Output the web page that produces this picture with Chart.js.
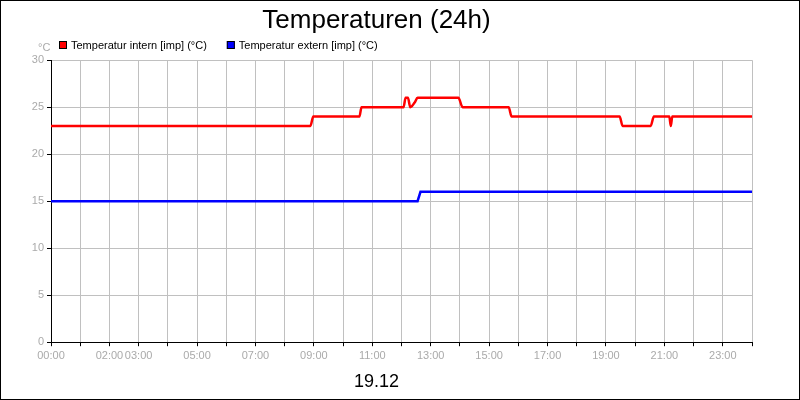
<!DOCTYPE html>
<html>
<head>
<meta charset="utf-8">
<script src="https://cdn.jsdelivr.net/npm/chart.js@4/dist/chart.umd.min.js"></script>
<style>
  body { margin: 0; background: #fff; }
  #wrap { width: 798px; height: 398px; border: 1px solid #000; position: relative; }
</style>
</head>
<body>
<div id="wrap"><canvas id="grafico" width="798" height="398"></canvas></div>
<script>
// Datos: horas (0-24) y temperaturas
const horasIntern = [0, 8.88, 8.98, 10.56, 10.63, 12.07, 12.14, 12.22, 12.3, 12.45, 12.55, 13.95, 14.09, 15.67, 15.77, 19.47, 19.57, 20.53, 20.64, 21.17, 21.22, 21.27, 24];
const tempIntern  = [23, 23, 24, 24, 25, 25, 26, 26, 25, 25.5, 26, 26, 25, 25, 24, 24, 23, 23, 24, 24, 23, 24, 24];
const horasExtern = [0, 12.55, 12.65, 24];
const tempExtern  = [15, 15, 16, 16];
const etiquetasHoras = { 0: '00:00', 2: '02:00', 3: '03:00', 5: '05:00', 7: '07:00', 9: '09:00', 11: '11:00',
  13: '13:00', 15: '15:00', 17: '17:00', 19: '19:00', 21: '21:00', 23: '23:00' };

const puntos = (xs, ys) => xs.map((x, i) => ({ x: x, y: ys[i] }));
const fuente = 'Arial, "Liberation Sans", sans-serif';

// Leyenda propia y °C encima del eje y
const textosExtra = {
  id: 'textosExtra',
  afterDraw(chart) {
    const c = chart.ctx;
    c.save();
    c.font = '11px ' + fuente;
    c.fillStyle = '#aaa';
    c.textBaseline = 'middle';
    c.fillText('°C', 37, 47);
    let x = 58;
    chart.data.datasets.forEach(d => {
      c.fillStyle = d.borderColor;
      c.fillRect(x, 40, 8, 8);
      c.strokeStyle = '#000';
      c.lineWidth = 1;
      c.strokeRect(x + 0.5, 40.5, 7, 7);
      c.fillStyle = '#000';
      c.fillText(d.label, x + 12, 44.5);
      x += 12 + c.measureText(d.label).width + 20;
    });
    c.restore();
  }
};

new Chart(document.getElementById('grafico'), {
  type: 'line',
  data: {
    datasets: [
      { label: 'Temperatur intern [imp] (°C)', data: puntos(horasIntern, tempIntern),
        borderColor: '#ff0000', borderWidth: 2.5, pointRadius: 0, cubicInterpolationMode: 'monotone' },
      { label: 'Temperatur extern [imp] (°C)', data: puntos(horasExtern, tempExtern),
        borderColor: '#0000ff', borderWidth: 2.5, pointRadius: 0 }
    ]
  },
  options: {
    responsive: false,
    animation: false,
    layout: { padding: { left: 0, right: 47, top: 2, bottom: 4 } },
    plugins: {
      title: { display: true, text: 'Temperaturen (24h)', color: '#000',
        font: { family: fuente, size: 26, weight: 'normal' }, padding: { top: 2, bottom: 24 } },
      subtitle: { display: true, position: 'bottom', text: '19.12', color: '#000',
        font: { family: fuente, size: 18, weight: 'normal' }, padding: { top: 6, bottom: 2 } },
      legend: { display: false },
      tooltip: { enabled: false }
    },
    scales: {
      x: { type: 'linear', min: 0, max: 24,
        afterBuildTicks(axis) { axis.ticks = Array.from({ length: 25 }, (_, i) => ({ value: i })); },
        ticks: { autoSkip: false, maxRotation: 0, color: '#aaa', font: { family: fuente, size: 11 },
          callback: v => etiquetasHoras[v] || '' },
        grid: { color: '#c0c0c0', tickLength: 4, tickColor: '#000' },
        border: { color: '#000' } },
      y: { min: 0, max: 30,
        afterFit(axis) { axis.width = 50; },
        ticks: { stepSize: 5, color: '#aaa', font: { family: fuente, size: 11 } },
        grid: { color: '#c0c0c0', tickLength: 4, tickColor: '#000' },
        border: { color: '#000' } }
    }
  },
  plugins: [textosExtra]
});
</script>
</body>
</html>
